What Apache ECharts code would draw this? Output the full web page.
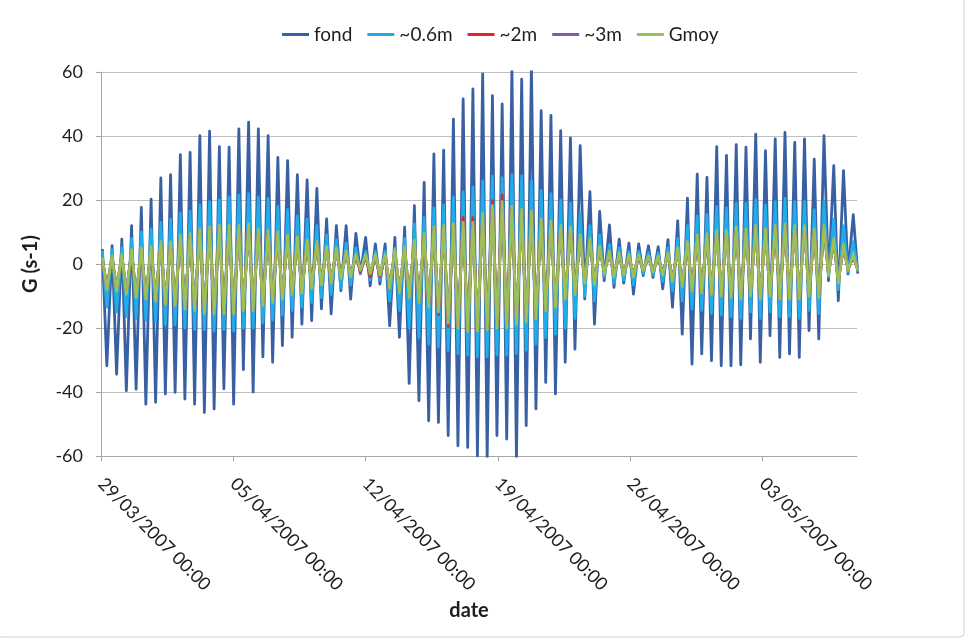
<!DOCTYPE html>
<html>
<head>
<meta charset="utf-8">
<script src="https://cdn.jsdelivr.net/npm/echarts@6/dist/echarts.min.js"></script>
<style>
  html, body { margin: 0; padding: 0; background: #ffffff; }
  #chart { width: 971px; height: 643px; }
</style>
</head>
<body>
<div id="chart"></div>
<script>
// Velocity gradient G (s-1) at each depth, one peak and one trough per tidal cycle.
// Time axis is in days since 29/03/2007 00:00.
const seriesNames = ['fond', '~0.6m', '~2m', '~3m', 'Gmoy'];
const tickDays = [0, 7, 14, 21, 28, 35];
const startDate = Date.UTC(2007, 2, 29);
const firstPeakDay = 0.07;   // time of the first flood peak
const tidePeriod = 0.516;    // semi-diurnal cycle, days
const troughLag = 0.239;     // delay from peak to following trough, days

const fondPeak = [4.7, 5.7, 7.8, 12.0, 17.7, 20.3, 26.9, 27.9, 34.2, 34.9, 40.1, 41.5, 36.7, 36.5,
  42.2, 44.3, 42.2, 40.1, 33.3, 32.3, 27.9, 26.3, 23.6, 14.1, 12.0, 12.0, 9.6,
  8.3, 6.3, 6.3, 8.3, 11.5, 18.2, 25.5, 34.4, 35.6, 45.3, 51.6, 54.7, 59.4,
  52.6, 50.0, 61.0, 57.8, 62.0, 47.9, 46.4, 41.7, 39.4, 37.0, 22.6, 16.4, 12.2, 7.8,
  6.5, 6.3, 5.7, 5.4, 7.6, 13.5, 20.6, 28.1, 27.1, 36.7, 33.9, 37.3, 36.5,
  40.6, 35.4, 39.1, 41.1, 38.0, 39.1, 32.8, 40.1, 30.7, 29.2, 15.4];
const fondTrough = [-31.8, -34.4, -39.6, -39.1, -43.8, -43.2, -40.6, -40.1, -42.2, -43.8, -46.4, -45.3, -39.0, -43.8,
  -33.0, -40.0, -29.0, -30.7, -25.5, -22.9, -18.8, -17.7, -14.0, -15.6, -8.3, -11.0, -3.1,
  -6.8, -6.3, -19.3, -22.9, -37.3, -42.7, -49.0, -49.5, -53.6, -56.8, -57.3, -60.0, -60.5,
  -53.6, -54.7, -61.0, -50.5, -45.3, -37.0, -40.6, -30.7, -26.6, -10.9, -18.8, -5.2, -7.3, -6.0,
  -9.4, -3.6, -4.2, -7.8, -13.5, -21.9, -31.3, -28.1, -30.2, -31.8, -31.8, -31.5, -23.4,
  -30.7, -22.4, -29.2, -28.1, -29.2, -20.8, -23.4, -5.2, -11.5, -3.1, -3.0];

const m06Peak = [4, 4.5, 5, 8, 10, 11, 13, 14, 16, 16.5, 18.5, 19.5, 20, 21,
  21.5, 22, 21, 20.5, 18, 17, 15, 14, 12, 9, 7.5, 6.5, 5,
  4, 4, 4, 5, 8, 12.5, 14.5, 17.5, 18.5, 21, 22.5, 24, 26,
  27.5, 27, 28, 27.5, 26, 23, 22, 20, 19, 16, 12, 9, 6, 5,
  4, 4, 3.5, 3.5, 5, 8, 12, 15, 15.5, 18, 17.5, 19, 19,
  20, 18.5, 19.5, 20.5, 19.5, 19.5, 17, 19.5, 14, 12, 7];
const m06Trough = [-13.5, -15, -16.5, -17, -17.5, -18, -19, -19, -20, -20.5, -20.5, -21, -20.5, -21,
  -20, -20, -18.5, -17.5, -16, -14.5, -13.5, -12, -10.5, -9.5, -7.5, -6.5, -3,
  -5, -5, -11.5, -14.5, -20, -23, -25, -26, -27, -28, -28.5, -29, -29,
  -28.5, -28.5, -28, -27, -25, -23, -22, -20, -17, -10, -11.5, -4, -6, -5,
  -6.5, -3, -3.5, -5.5, -8.5, -11.5, -14, -14.5, -15.5, -16, -16.5, -17, -15,
  -17, -15, -16.5, -16.5, -17, -14.5, -15.5, -4, -8, -2.5, -2.5];

const m2Peak = [1.8, 2.2, 2.8, 4, 4.5, 5, 6.5, 6.5, 8.5, 9, 10.5, 11, 11.5, 11.5,
  11.5, 12, 10.5, 10, 9.5, 8.5, 8, 7, 6.5, 5, 4.5, 3.5, 2.5,
  2.5, 2.5, 2.5, 4, 5, 7, 9, 11, 11.5, 12, 14.5, 14.5, 15.5,
  19.8, 21.5, 17.5, 16.5, 16, 13.5, 13, 11.5, 11, 8.5, 7.5, 5, 3.5, 3,
  2.5, 2.5, 2, 2, 3, 4.5, 6.5, 8.5, 9, 10, 10, 11, 10.5,
  11.5, 10.5, 11.5, 12, 11.5, 11.5, 10.5, 11.5, 7.5, 5.5, 2.5];
const m2Trough = [-7.5, -8, -9, -10, -10.5, -11, -12, -12.5, -13.5, -14, -15, -15, -15, -15,
  -14, -14, -12.5, -11.5, -10.5, -9, -8.5, -7, -6, -5.5, -4, -3.5, -2.5,
  -4, -4, -7, -8.5, -10, -11.5, -13, -15.8, -19.5, -19.5, -20.5, -20.5, -20,
  -19.5, -19.5, -18.5, -17.5, -16.5, -14, -13, -10.5, -9, -5.5, -6, -2.5, -3.5, -3,
  -3.5, -1.8, -2.2, -3, -5, -6.5, -8, -8.5, -9, -9.5, -10, -10.5, -9.5,
  -10.5, -9.5, -10.5, -10.5, -10.5, -9.5, -10, -3, -5.5, -1.8, -1.8];

const m3Peak = [1.5, 2, 2.5, 3.5, 4, 4.5, 6, 6, 8, 8.5, 10, 10.5, 11, 11,
  11, 11.5, 10, 9.5, 9, 8, 7.5, 6.5, 6, 4.5, 4, 3, 2,
  2, 2, 2, 3.5, 4.5, 6.5, 8.5, 10.5, 11, 11.5, 12.5, 12.5, 15,
  17, 18.5, 17, 16, 15.5, 13, 12.5, 11, 10.5, 8, 7, 4.5, 3, 2.5,
  2, 2, 1.8, 1.8, 2.5, 4, 6, 8, 8.5, 9.5, 9.5, 10.5, 10,
  11, 10, 11, 11.5, 11, 11, 10, 11, 7, 5, 2];
const m3Trough = [-7, -7.5, -8.5, -9.5, -10, -10.5, -11.5, -12, -13, -13.5, -14.5, -14.5, -14.5, -14.5,
  -13.5, -13.5, -12, -11, -10, -8.5, -8, -6.5, -5.5, -5, -3.5, -3, -1.5,
  -2.5, -3, -6.5, -8, -9.5, -11, -12.5, -14, -17.5, -19, -20, -20, -19.5,
  -19, -19, -18, -17, -16, -13.5, -12.5, -10, -8.5, -5, -5.5, -2.5, -3, -3,
  -3, -1.5, -2, -2.5, -4.5, -6, -7.5, -8, -8.5, -9, -9.5, -10, -9,
  -10, -9, -10, -10, -10, -9, -9.5, -3, -5, -1.5, -1.5];

const gmoyPeak = [2, 2.5, 3, 4.5, 5, 5.5, 7, 7, 9, 9.5, 11, 11.5, 12, 12,
  12, 12.5, 11, 10.5, 10, 9, 8.5, 7.5, 7, 5.5, 5, 4, 3,
  3, 3, 3, 4.5, 5.5, 7.5, 9.5, 11.5, 12, 12.5, 13, 13, 16,
  18.3, 19.5, 18, 17, 16.5, 14, 13.5, 12, 11.5, 9, 8, 5.5, 4, 3.5,
  3, 3, 2.5, 2.5, 3.5, 5, 7, 9, 9.5, 10.5, 10.5, 11.5, 11,
  12, 11, 12, 12.5, 12, 12, 11, 12, 8, 6, 3];
const gmoyTrough = [-8, -8.5, -9.5, -10.5, -11, -11.5, -12.5, -13, -14, -14.5, -15.5, -15.5, -15.5, -15.5,
  -14.5, -14.5, -13, -12, -11, -9.5, -9, -7.5, -6.5, -6, -4.5, -4, -2,
  -3, -3.5, -7.5, -9, -10.5, -12, -13.5, -15, -18.5, -20, -21, -21, -20.5,
  -20, -20, -19, -18, -17, -14.5, -13.5, -11, -9.5, -6, -6.5, -3, -4, -3.5,
  -4, -2, -2.5, -3.5, -5.5, -7, -8.5, -9, -9.5, -10, -10.5, -11, -10,
  -11, -10, -11, -11, -11, -10, -10.5, -3.5, -6, -2, -2];

const seriesColors = ['#3A60A4', '#1EACEB', '#E3242B', '#7B5EA7', '#9DBF57'];
const fontFamily = 'Lato, "Liberation Sans", sans-serif';
const textColor = '#1e1e1e';

function buildSeries(peaks, troughs) {
  const pts = [];
  for (let k = 0; k < peaks.length; k++) {
    const t = firstPeakDay + k * tidePeriod;
    pts.push([t, peaks[k]]);
    pts.push([t + troughLag, troughs[k]]);
  }
  return pts;
}

function pad2(n) { return (n < 10 ? '0' : '') + n; }
function dayLabel(v) {
  const d = new Date(startDate + Math.round(v) * 86400000);
  return pad2(d.getUTCDate()) + '/' + pad2(d.getUTCMonth() + 1) + '/' + d.getUTCFullYear() + ' 00:00';
}

const seriesData = [
  buildSeries(fondPeak, fondTrough),
  buildSeries(m06Peak, m06Trough),
  buildSeries(m2Peak, m2Trough),
  buildSeries(m3Peak, m3Trough),
  buildSeries(gmoyPeak, gmoyTrough)
];

const chart = echarts.init(document.getElementById('chart'), null, { renderer: 'canvas' });
chart.setOption({
  animation: false,
  backgroundColor: '#ffffff',
  textStyle: { fontFamily: fontFamily, color: textColor },
  graphic: [{
    type: 'rect',
    silent: true,
    shape: { x: -2, y: -2, width: 966, height: 639, r: 4 },
    style: { fill: 'none', stroke: '#D0D0D0', lineWidth: 1 }
  }],
  legend: {
    data: seriesNames,
    left: 277,
    top: 20,
    icon: 'path://M0 0H27V3H0Z',
    itemWidth: 27,
    itemHeight: 3,
    itemGap: 15,
    textStyle: { fontFamily: fontFamily, fontSize: 19, color: textColor }
  },
  grid: { left: 101, right: 114, top: 72, bottom: 187, containLabel: false, outerBoundsMode: 'none' },
  xAxis: {
    type: 'value',
    min: 0,
    max: 40,
    name: 'date',
    nameLocation: 'middle',
    nameGap: 132,
    nameTextStyle: { fontFamily: fontFamily, fontSize: 20, fontWeight: 'bold', color: textColor, padding: [0, 20, 0, 0] },
    axisLine: { show: true, onZero: false, lineStyle: { color: '#A6A6A6', width: 1 } },
    axisTick: { show: true, customValues: tickDays, length: 5, lineStyle: { color: '#A6A6A6' } },
    axisLabel: {
      customValues: tickDays,
      rotate: -45,
      margin: 25,
      fontFamily: fontFamily,
      fontSize: 18,
      color: textColor,
      formatter: dayLabel
    },
    splitLine: { show: false }
  },
  yAxis: {
    type: 'value',
    min: -60,
    max: 60,
    interval: 20,
    name: 'G (s-1)',
    nameLocation: 'middle',
    nameGap: 60,
    nameTextStyle: { fontFamily: fontFamily, fontSize: 20, fontWeight: 'bold', color: textColor },
    axisLine: { show: true, lineStyle: { color: '#A6A6A6', width: 1 } },
    axisTick: { show: true, length: 5, lineStyle: { color: '#A6A6A6' } },
    axisLabel: { margin: 18, fontFamily: fontFamily, fontSize: 18, color: textColor },
    splitLine: { show: true, lineStyle: { color: '#BFBFBF', width: 1 } }
  },
  series: seriesNames.map(function (name, i) {
    return {
      name: name,
      type: 'line',
      data: seriesData[i],
      symbol: 'none',
      clip: true,
      color: seriesColors[i],
      lineStyle: { color: seriesColors[i], width: 2.8, join: 'round' },
      emphasis: { disabled: true }
    };
  })
});
</script>
</body>
</html>
